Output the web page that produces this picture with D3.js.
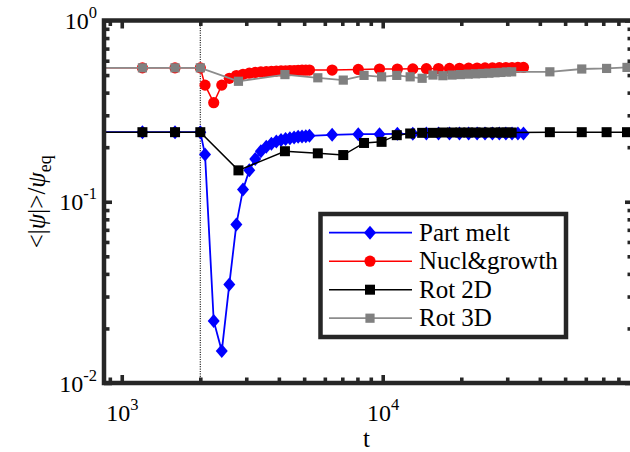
<!DOCTYPE html>
<html>
<head>
<meta charset="utf-8">
<script src="https://cdn.jsdelivr.net/npm/d3@7"></script>
<style>
  body { margin: 0; background: #fff; }
</style>
</head>
<body>
<svg id="chart" width="630" height="452" font-family="'Liberation Serif', 'Times New Roman', Times, 'DejaVu Serif', serif"></svg>
<script>
// times of the Part melt / Nucl&growth runs
var tMelt = [800, 1200, 1600, 2000, 2085, 2251, 2417, 2583, 2749, 2915, 3081, 3247, 3413, 3579,
  3745, 3911, 4077, 4243, 4409, 4575, 4741, 4907, 5073, 5239, 6400, 8060, 9720, 11380, 13040,
  14700, 16360, 18020, 19680, 21340, 23000, 24660, 26320, 27980, 29640, 31300, 32960, 34620];
var partMelt = [0.242, 0.242, 0.242, 0.242, 0.182, 0.022, 0.015, 0.035, 0.075, 0.117, 0.149, 0.172,
  0.19, 0.201, 0.209, 0.215, 0.219, 0.222, 0.224, 0.226, 0.228, 0.229, 0.23, 0.231, 0.234, 0.236,
  0.236, 0.237, 0.237, 0.238, 0.238, 0.238, 0.238, 0.238, 0.238, 0.238, 0.238, 0.238, 0.238, 0.238,
  0.238, 0.238];
var nuclGrowth = [0.548, 0.548, 0.548, 0.548, 0.44, 0.352, 0.44, 0.48, 0.497, 0.505, 0.512, 0.517,
  0.52, 0.522, 0.524, 0.526, 0.527, 0.528, 0.529, 0.53, 0.531, 0.532, 0.532, 0.533, 0.533, 0.537,
  0.54, 0.54, 0.541, 0.542, 0.543, 0.544, 0.545, 0.546, 0.547, 0.548, 0.548, 0.549, 0.55, 0.55,
  0.551, 0.551];

// times of the rotation runs
var tRot = [800, 1200, 1600, 2000, 2800, 4220, 5640, 7060, 8480, 9900, 11320, 12740, 14160, 15580,
  17000, 18420, 19840, 21260, 22680, 24100, 25520, 26940, 28360, 29780, 31200, 43700, 57900,
  72100, 86300];
var rot2D = [0.242, 0.242, 0.242, 0.242, 0.149, 0.19, 0.185, 0.181, 0.211, 0.214, 0.233, 0.238,
  0.24, 0.24, 0.241, 0.241, 0.241, 0.241, 0.241, 0.241, 0.241, 0.241, 0.241, 0.241, 0.241, 0.242,
  0.242, 0.242, 0.242];
var rot3D = [0.548, 0.548, 0.548, 0.548, 0.462, 0.503, 0.483, 0.469, 0.498, 0.489, 0.498, 0.489,
  0.48, 0.5, 0.496, 0.5, 0.503, 0.506, 0.508, 0.51, 0.512, 0.515, 0.517, 0.52, 0.521, 0.521, 0.54,
  0.544, 0.551];

var seriesNames = ["Part melt", "Nucl&growth", "Rot 2D", "Rot 3D"];
var xMajor = [1e3, 1e4];
var xMinor = [900, 2000, 3000, 4000, 5000, 6000, 7000, 8000, 9000,
  20000, 30000, 40000, 50000, 60000, 70000, 80000, 90000];
var yMajor = [0.01, 0.1, 1];
var yMinor = [0.02, 0.03, 0.04, 0.05, 0.06, 0.07, 0.08, 0.09, 0.2, 0.3, 0.4, 0.5, 0.6, 0.7, 0.8, 0.9];
var xLabelExp = ["3", "4"];
var yLabelExp = ["-2", "-1", "0"];
var tQuench = 2000;

var svg = d3.select("#chart");
var L = 104, R = 633, T = 20.5, B = 383;
var axisColor = "#262626";

var x = d3.scaleLog().domain([855, 91000]).range([L, R]);
var y = d3.scaleLog().domain([0.01, 1]).range([B, T]);

svg.append("clipPath").attr("id", "plotclip")
  .append("rect").attr("x", L).attr("y", T).attr("width", R - L).attr("height", B - T);

var series = [
  { t: tMelt, v: partMelt, color: "#0000ff", line: "#0000ff", lw: 1.8, shape: "diamond" },
  { t: tMelt, v: nuclGrowth, color: "#ff0000", line: "#ff0000", lw: 1.5, shape: "circle" },
  { t: tRot, v: rot2D, color: "#000000", line: "#000000", lw: 1.5, shape: "square" },
  { t: tRot, v: rot3D, color: "#808080", line: "#8c8c8c", lw: 1.8, shape: "square3" }
];

function drawMarker(g, shape, color) {
  if (shape === "diamond") {
    g.append("path").attr("d", "M0,-7L6,0L0,7L-6,0Z").attr("fill", color);
  } else if (shape === "circle") {
    g.append("circle").attr("r", 5.6).attr("fill", color);
  } else if (shape === "square") {
    g.append("rect").attr("x", -5).attr("y", -5).attr("width", 10).attr("height", 10).attr("fill", color);
  } else {
    g.append("rect").attr("x", -4.6).attr("y", -4.6).attr("width", 9.2).attr("height", 9.2).attr("fill", color);
  }
}

var plot = svg.append("g").attr("clip-path", "url(#plotclip)");

// quench time marker
plot.append("line")
  .attr("x1", x(tQuench)).attr("x2", x(tQuench)).attr("y1", T).attr("y2", B)
  .attr("stroke", "#333").attr("stroke-width", 1.2).attr("stroke-dasharray", "1.2,1.2");

var line = d3.line().x(function(d) { return x(d[0]); }).y(function(d) { return y(d[1]); });

series.forEach(function(s) {
  var pts = s.t.map(function(t, i) { return [t, s.v[i]]; });
  var g = plot.append("g");
  g.append("path").datum(pts).attr("d", line)
    .attr("fill", "none").attr("stroke", s.line).attr("stroke-width", s.lw);
  g.selectAll(".m").data(pts).enter().append("g").attr("class", "m")
    .attr("transform", function(d) { return "translate(" + x(d[0]) + "," + y(d[1]) + ")"; })
    .each(function() { drawMarker(d3.select(this), s.shape, s.color); });
});

// axes: ticks point inward
function tickAxis(gen, transform, vals, len) {
  var g = svg.append("g").attr("transform", transform)
    .call(gen.tickValues(vals).tickSizeInner(-len).tickSizeOuter(0).tickFormat(""));
  g.select(".domain").remove();
  g.attr("font-family", null);
  g.selectAll(".tick line").attr("stroke", axisColor).attr("stroke-width", 3.6);
  return g;
}
tickAxis(d3.axisBottom(x), "translate(0," + B + ")", xMinor, 5.5);
var xAx = tickAxis(d3.axisBottom(x), "translate(0," + B + ")", xMajor, 8);
tickAxis(d3.axisTop(x), "translate(0," + T + ")", xMinor, 5.5);
tickAxis(d3.axisTop(x), "translate(0," + T + ")", xMajor, 8);
tickAxis(d3.axisLeft(y), "translate(" + L + ",0)", yMinor, 5.5);
var yAx = tickAxis(d3.axisLeft(y), "translate(" + L + ",0)", yMajor, 8);
tickAxis(d3.axisRight(y), "translate(" + R + ",0)", yMinor, 5.5);
tickAxis(d3.axisRight(y), "translate(" + R + ",0)", yMajor, 8);

svg.append("rect").attr("x", L).attr("y", T).attr("width", R - L).attr("height", B - T)
  .attr("fill", "none").attr("stroke", axisColor).attr("stroke-width", 4.5);

function powLabel(text, exp) {
  text.append("tspan").text("10");
  text.append("tspan").attr("dy", -11).attr("font-size", 16.5).text(exp);
}

xAx.selectAll(".tick").each(function(d, i) {
  var t = d3.select(this).append("text").attr("y", 38).attr("x", 0)
    .attr("text-anchor", "middle").attr("font-size", 24).attr("fill", "#000");
  powLabel(t, xLabelExp[i]);
});
yAx.selectAll(".tick").each(function(d, i) {
  var t = d3.select(this).append("text").attr("x", -7).attr("y", 8)
    .attr("text-anchor", "end").attr("font-size", 24).attr("fill", "#000");
  powLabel(t, yLabelExp[i]);
});

// axis titles
svg.append("text").attr("x", (L + R) / 2 - 2).attr("y", 447)
  .attr("text-anchor", "middle").attr("font-size", 25).text("t");

var yt = svg.append("text").attr("transform", "translate(45," + ((T + B) / 2) + ") rotate(-90)")
  .attr("text-anchor", "middle").attr("font-size", 25);
yt.append("tspan").text("<|");
yt.append("tspan").attr("font-style", "italic").text("\u03c8");
yt.append("tspan").text("|>/");
yt.append("tspan").attr("font-style", "italic").text("\u03c8");
yt.append("tspan").attr("dy", 6).attr("font-size", 18).text("eq");

// legend
var leg = svg.append("g");
leg.append("rect").attr("x", 320.5).attr("y", 214).attr("width", 245.5).attr("height", 123)
  .attr("fill", "#fff").attr("stroke", axisColor).attr("stroke-width", 4.5);
series.forEach(function(s, i) {
  var ry = 232.7 + i * 28.5;
  var row = leg.append("g").attr("transform", "translate(0," + ry + ")");
  row.append("line").attr("x1", 329).attr("x2", 412).attr("y1", 0).attr("y2", 0)
    .attr("stroke", s.line).attr("stroke-width", s.lw);
  var m = row.append("g").attr("transform", "translate(370,0)");
  drawMarker(m, s.shape, s.color);
  row.append("text").attr("x", 419).attr("y", 8).attr("font-size", 25).text(seriesNames[i]);
});
</script>
</body>
</html>
